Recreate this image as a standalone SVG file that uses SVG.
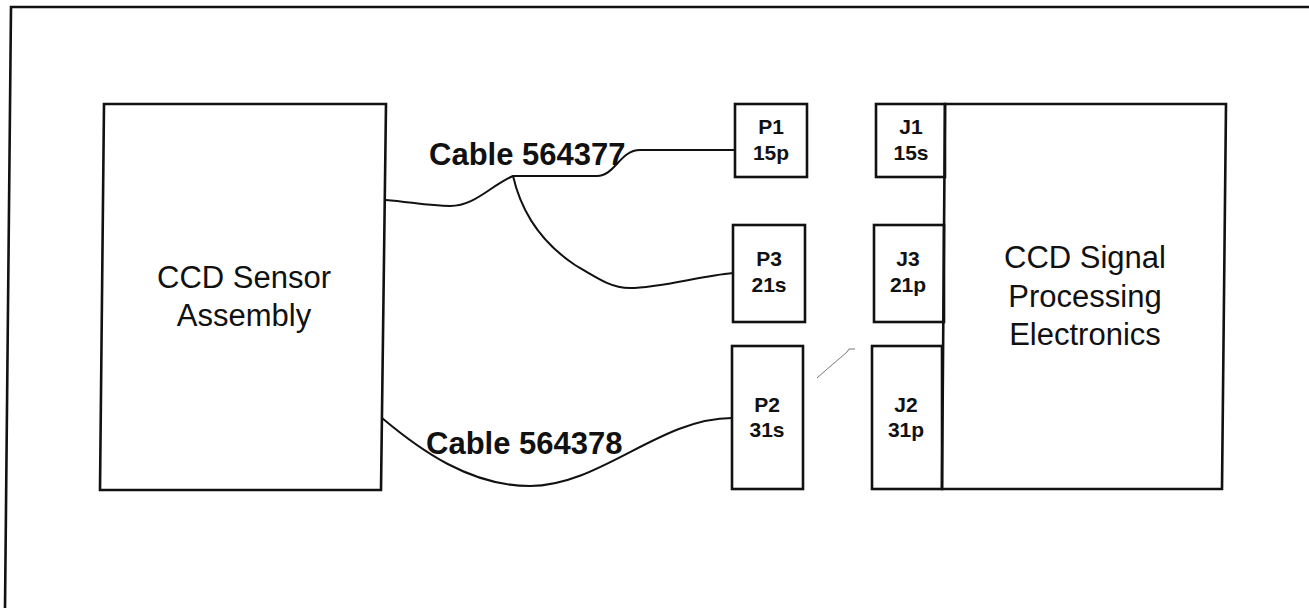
<svg xmlns="http://www.w3.org/2000/svg" width="1309" height="608" viewBox="0 0 1309 608">
<style>
.box{fill:none;stroke:#111;stroke-width:2.6}
.cable{fill:none;stroke:#111;stroke-width:2}
.big{font-family:"Liberation Sans",Arial,sans-serif;font-size:31px;fill:#111;text-anchor:middle}
.lbl{font-family:"Liberation Sans",Arial,sans-serif;font-size:31px;font-weight:bold;fill:#111}
.pin{font-family:"Liberation Sans",Arial,sans-serif;font-size:21px;font-weight:bold;fill:#111;text-anchor:middle}
</style>
<rect width="1309" height="608" fill="#fff"/>
<path class="box" d="M1309 7 L11 7 L5 608"/>
<g id="sensor">
<polygon class="box" points="104,104 386,104 381,490 100,490"/>
<text class="big" x="244" y="288">CCD Sensor</text>
<text class="big" x="244" y="326">Assembly</text>
</g>
<g id="electronics">
<polygon class="box" points="945,104 1226,104 1222,489 942,489"/>
<text class="big" x="1085" y="268">CCD Signal</text>
<text class="big" x="1085" y="307">Processing</text>
<text class="big" x="1085" y="345">Electronics</text>
</g>
<g id="P1"><rect class="box" x="735" y="104" width="72" height="73"/><text class="pin" x="771" y="134">P1</text><text class="pin" x="771" y="160">15p</text></g>
<g id="P3"><rect class="box" x="733" y="225" width="72" height="97"/><text class="pin" x="769" y="266">P3</text><text class="pin" x="769" y="292">21s</text></g>
<g id="P2"><rect class="box" x="732" y="346" width="71" height="143"/><text class="pin" x="767" y="412">P2</text><text class="pin" x="767" y="437">31s</text></g>
<g id="J1"><rect class="box" x="876" y="104" width="69" height="73"/><text class="pin" x="911" y="134">J1</text><text class="pin" x="911" y="160">15s</text></g>
<g id="J3"><rect class="box" x="874" y="225" width="70" height="97"/><text class="pin" x="908" y="266">J3</text><text class="pin" x="908" y="292">21p</text></g>
<g id="J2"><rect class="box" x="872" y="346" width="70" height="143"/><text class="pin" x="906" y="412">J2</text><text class="pin" x="906" y="437">31p</text></g>
<g id="connectors">
<path class="cable" d="M386 200 C410 202 430 206 450 206 C475 206 490 186 513 176 L597 176 C615 176 620 150 640 150 L735 150"/>
<path class="cable" d="M513 176 C522 215 545 245 575 265 C600 280 612 288 630 288 C660 288 700 276 733 273"/>
<path class="cable" d="M382 418 C420 450 470 486 530 486 C600 486 660 418 732 418"/>
<text class="lbl" x="429" y="165">Cable 564377</text>
<text class="lbl" x="426" y="454">Cable 564378</text>
</g>
<path d="M817 378 C828 368 838 360 847 352 L849 349 L855 349" fill="none" stroke="#777" stroke-width="1"/>
</svg>
